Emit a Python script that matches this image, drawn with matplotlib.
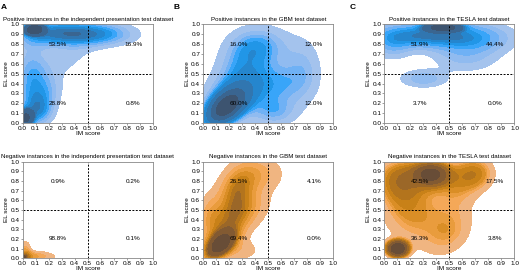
import matplotlib
matplotlib.use("Agg")
import matplotlib.pyplot as plt
import numpy as np
from matplotlib.colors import ListedColormap, to_rgb
from seaborn.external import husl

plt.rcParams['font.family'] = ['Liberation Sans', 'DejaVu Sans']

# density blobs: centre x, centre y, spread x, spread y, correlation, weight
pos_indep_cx = [0.30, 0.09, 0.65, 0.07, 0.02, 0.18, 0.35, 0.12]
pos_indep_cy = [0.91, 0.95, 0.90, 0.45, 0.05, 0.30, 0.65, 0.12]
pos_indep_sx = [0.24, 0.04, 0.18, 0.09, 0.035, 0.10, 0.14, 0.08]
pos_indep_sy = [0.09, 0.03, 0.08, 0.25, 0.05, 0.15, 0.12, 0.10]
pos_indep_r = [0.0, 0.0, 0.0, 0.0, 0.0, 0.3, 0.4, 0.0]
pos_indep_w = [0.36, 0.09, 0.11, 0.23, 0.08, 0.09, 0.06, 0.07]

pos_gbm_cx = [0.17, 0.25, 0.58, 0.45, 0.78, 0.30, 0.55]
pos_gbm_cy = [0.16, 0.30, 0.38, 0.80, 0.55, 0.65, 0.10]
pos_gbm_sx = [0.10, 0.17, 0.16, 0.17, 0.10, 0.14, 0.12]
pos_gbm_sy = [0.12, 0.20, 0.18, 0.14, 0.22, 0.18, 0.10]
pos_gbm_r = [0.5, 0.3, 0.0, 0.0, 0.0, 0.2, 0.0]
pos_gbm_w = [0.25, 0.25, 0.15, 0.12, 0.08, 0.10, 0.05]

pos_tesla_cx = [0.45, 0.30, 0.68, 0.06, 0.30, 0.62]
pos_tesla_cy = [0.97, 0.89, 0.86, 0.80, 0.45, 0.66]
pos_tesla_sx = [0.08, 0.24, 0.20, 0.10, 0.12, 0.17]
pos_tesla_sy = [0.025, 0.08, 0.10, 0.10, 0.06, 0.10]
pos_tesla_r = [0.0, 0.0, 0.0, 0.0, 0.0, 0.0]
pos_tesla_w = [0.14, 0.33, 0.22, 0.07, 0.05, 0.09]

neg_indep_cx = [0.01, 0.06, 0.02]
neg_indep_cy = [0.01, 0.02, 0.07]
neg_indep_sx = [0.03, 0.10, 0.025]
neg_indep_sy = [0.03, 0.03, 0.06]
neg_indep_r = [0.0, 0.0, 0.0]
neg_indep_w = [0.55, 0.32, 0.13]

neg_gbm_cx = [0.13, 0.20, 0.26, 0.45, 0.32, 0.05, 0.30]
neg_gbm_cy = [0.14, 0.38, 0.74, 0.88, 0.50, 0.45, 0.08]
neg_gbm_sx = [0.08, 0.13, 0.10, 0.12, 0.14, 0.06, 0.10]
neg_gbm_sy = [0.10, 0.18, 0.16, 0.12, 0.15, 0.15, 0.08]
neg_gbm_r = [0.5, 0.5, 0.3, 0.0, 0.3, 0.0, 0.0]
neg_gbm_w = [0.25, 0.25, 0.22, 0.10, 0.12, 0.06, 0.04]

neg_tesla_cx = [0.10, 0.36, 0.12, 0.22, 0.58, 0.50, 0.72, 0.30]
neg_tesla_cy = [0.10, 0.87, 0.78, 0.45, 0.75, 0.25, 0.88, 0.85]
neg_tesla_sx = [0.05, 0.08, 0.12, 0.17, 0.13, 0.14, 0.10, 0.22]
neg_tesla_sy = [0.05, 0.07, 0.17, 0.22, 0.22, 0.18, 0.12, 0.12]
neg_tesla_r = [0.0, 0.0, 0.0, 0.0, 0.3, 0.3, 0.0, 0.0]
neg_tesla_w = [0.09, 0.13, 0.14, 0.22, 0.12, 0.11, 0.06, 0.13]

# quadrant shares: top-left, top-right, bottom-left, bottom-right
pos_indep_pct = ['53.5%', '16.9%', '28.8%', '0.8%']
pos_gbm_pct = ['16.0%', '12.0%', '60.0%', '12.0%']
pos_tesla_pct = ['51.9%', '44.4%', '3.7%', '0.0%']
neg_indep_pct = ['0.9%', '0.2%', '98.8%', '0.1%']
neg_gbm_pct = ['26.5%', '4.1%', '69.4%', '0.0%']
neg_tesla_pct = ['42.5%', '17.5%', '36.3%', '3.8%']

titles = ['Positive instances in the independent presentation test dataset',
          'Positive instances in the GBM test dataset',
          'Positive instances in the TESLA test dataset',
          'Negative instances in the independent presentation test dataset',
          'Negative instances in the GBM test dataset',
          'Negative instances in the TESLA test dataset']
ticks = [0.0, 0.1, 0.2, 0.3, 0.4, 0.5, 0.6, 0.7, 0.8, 0.9, 1.0]


def cmap_from_color(color):
    r, g, b = to_rgb(color)
    h, s, _ = husl.rgb_to_husl(r, g, b)
    xx = np.linspace(-1, 1, int(1.15 * 256))[:256]
    ramp = np.zeros((256, 3))
    ramp[:, 0] = h
    ramp[:, 1] = s * np.cos(xx)
    ramp[:, 2] = np.linspace(35, 78, 256)
    colors = np.clip([husl.husl_to_rgb(*hsl) for hsl in ramp], 0, 1)
    return ListedColormap(colors[::-1])


def density(cx, cy, sx, sy, rho, w, n=200):
    g = np.linspace(0, 1, n)
    xx, yy = np.meshgrid(g, g)
    z = np.zeros_like(xx)
    for x0, y0, a, b, r, k in zip(cx, cy, sx, sy, rho, w):
        u = (xx - x0) / a
        v = (yy - y0) / b
        q = (u * u - 2 * r * u * v + v * v) / (1 - r * r)
        z += k * np.exp(-0.5 * q) / (2 * np.pi * a * b * np.sqrt(1 - r * r))
    return xx, yy, z


def iso_levels(z, props):
    vals = np.sort(z.ravel())[::-1]
    cum = np.cumsum(vals) / vals.sum()
    idx = np.searchsorted(cum, 1 - np.asarray(props))
    return np.take(vals, idx, mode='clip')


def draw_panel(ax, blobs, pct, title, color):
    xx, yy, z = density(*blobs)
    lv = np.unique(iso_levels(z, np.linspace(0.05, 1, 10)))
    base = cmap_from_color(color)
    nb = len(lv) - 1
    band_colors = base(np.linspace(0, 1, nb) ** 1.25)
    ax.contourf(xx, yy, z, levels=lv, colors=band_colors)

    ax.axvline(0.5, color='black', ls=(0, (2, 1.5)), lw=0.7)
    ax.axhline(0.5, color='black', ls=(0, (2, 1.5)), lw=0.7)

    ax.text(0.27, 0.8, pct[0], ha='center', va='center', fontsize=4.6)
    ax.text(0.85, 0.8, pct[1], ha='center', va='center', fontsize=4.6)
    ax.text(0.27, 0.2, pct[2], ha='center', va='center', fontsize=4.6)
    ax.text(0.85, 0.2, pct[3], ha='center', va='center', fontsize=4.6)

    ax.set_xlim(0, 1)
    ax.set_ylim(0, 1)
    ax.set_xticks(ticks)
    ax.set_yticks(ticks)
    ax.set_xticklabels(['%.1f' % t for t in ticks])
    ax.set_yticklabels(['%.1f' % t for t in ticks])
    ax.tick_params(labelsize=4.6, length=1.5, width=0.5, color='#777777', pad=0.8)
    ax.set_xlabel('IM score', fontsize=4.6, labelpad=-0.5)
    ax.set_ylabel('EL score', fontsize=4.6, labelpad=1)
    ax.set_title(title, fontsize=4.4, pad=2.5)
    for s in ax.spines.values():
        s.set_color('#888888')
        s.set_linewidth(0.6)


fig = plt.figure(figsize=(5.2, 2.71), dpi=100)

lefts = [0.0437, 0.391, 0.7394]
w = 0.25
axes_top = [fig.add_axes([l, 0.5461, w, 0.3635]) for l in lefts]
axes_bot = [fig.add_axes([l, 0.0469, w, 0.3565]) for l in lefts]

blue = '#1f8fdc'
orange = '#e8961e'

draw_panel(axes_top[0], (pos_indep_cx, pos_indep_cy, pos_indep_sx, pos_indep_sy, pos_indep_r, pos_indep_w),
           pos_indep_pct, titles[0], blue)
draw_panel(axes_top[1], (pos_gbm_cx, pos_gbm_cy, pos_gbm_sx, pos_gbm_sy, pos_gbm_r, pos_gbm_w),
           pos_gbm_pct, titles[1], blue)
draw_panel(axes_top[2], (pos_tesla_cx, pos_tesla_cy, pos_tesla_sx, pos_tesla_sy, pos_tesla_r, pos_tesla_w),
           pos_tesla_pct, titles[2], blue)
draw_panel(axes_bot[0], (neg_indep_cx, neg_indep_cy, neg_indep_sx, neg_indep_sy, neg_indep_r, neg_indep_w),
           neg_indep_pct, titles[3], orange)
draw_panel(axes_bot[1], (neg_gbm_cx, neg_gbm_cy, neg_gbm_sx, neg_gbm_sy, neg_gbm_r, neg_gbm_w),
           neg_gbm_pct, titles[4], orange)
draw_panel(axes_bot[2], (neg_tesla_cx, neg_tesla_cy, neg_tesla_sx, neg_tesla_sy, neg_tesla_r, neg_tesla_w),
           neg_tesla_pct, titles[5], orange)

for lab, x in zip(['A', 'B', 'C'], [0.002, 0.334, 0.672]):
    fig.text(x, 0.985, lab, fontsize=6, fontweight='bold', va='top')

fig.savefig('out.png', dpi=100)
